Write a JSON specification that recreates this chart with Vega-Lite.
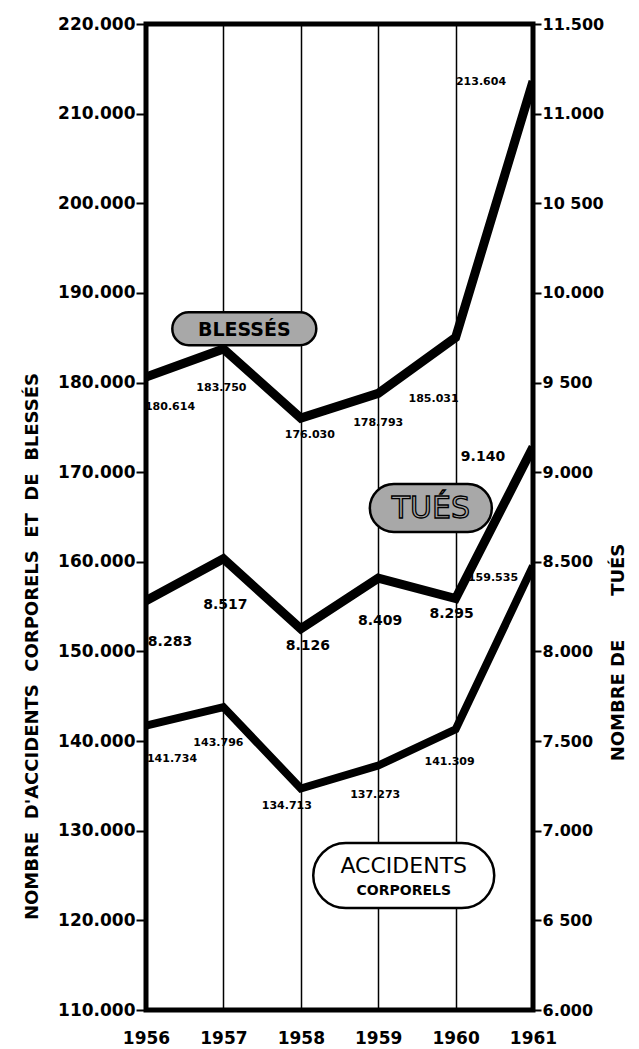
{
  "$schema": "https://vega.github.io/schema/vega-lite/v6.json",
  "width": 387,
  "height": 986,
  "autosize": {"type": "none"},
  "padding": {"left": 146, "top": 24, "right": 106, "bottom": 39},
  "background": "white",
  "config": {
    "locale": {"number": {"decimal": ",", "thousands": ".", "grouping": [3], "currency": ["", ""]}},
    "view": {"stroke": "black", "strokeWidth": 5},
    "font": "DejaVu Sans",
    "axis": {
      "labelFont": "DejaVu Sans",
      "labelFontWeight": "bold",
      "labelColor": "black",
      "tickColor": "black",
      "titleFont": "DejaVu Sans",
      "titleColor": "black",
      "titleFontWeight": "bold",
      "domain": false,
      "labelOverlap": false,
      "labelBound": false
    }
  },
  "datasets": {
    "series": [
      {"year": 1956, "series": "Blessés", "value": 180614},
      {"year": 1957, "series": "Blessés", "value": 183750},
      {"year": 1958, "series": "Blessés", "value": 176030},
      {"year": 1959, "series": "Blessés", "value": 178793},
      {"year": 1960, "series": "Blessés", "value": 185031},
      {"year": 1961, "series": "Blessés", "value": 213604},
      {"year": 1956, "series": "Accidents", "value": 141734},
      {"year": 1957, "series": "Accidents", "value": 143796},
      {"year": 1958, "series": "Accidents", "value": 134713},
      {"year": 1959, "series": "Accidents", "value": 137273},
      {"year": 1960, "series": "Accidents", "value": 141309},
      {"year": 1961, "series": "Accidents", "value": 159535},
      {"year": 1956, "series": "Tués", "value": 8283},
      {"year": 1957, "series": "Tués", "value": 8517},
      {"year": 1958, "series": "Tués", "value": 8126},
      {"year": 1959, "series": "Tués", "value": 8409},
      {"year": 1960, "series": "Tués", "value": 8295},
      {"year": 1961, "series": "Tués", "value": 9140}
    ],
    "notesLeft": [
      {"note": "BLESSÉS", "sub": "", "year": 1957.27, "value": 186000},
      {"note": "ACCIDENTS", "sub": "CORPORELS", "year": 1959.33, "value": 125000}
    ],
    "notesRight": [
      {"note": "TUÉS", "year": 1959.68, "value": 8800}
    ]
  },
  "encoding": {
    "x": {
      "field": "year", "type": "quantitative",
      "scale": {"domain": [1956, 1961], "nice": false, "zero": false},
      "axis": {
        "values": [1956, 1957, 1958, 1959, 1960, 1961],
        "format": "d",
        "title": null,
        "grid": true,
        "gridColor": "black",
        "gridWidth": 1.5,
        "gridOpacity": 1,
        "ticks": false,
        "labelFlush": false,
        "labelFontSize": 17,
        "labelPadding": 20
      }
    }
  },
  "layer": [
    {
      "encoding": {
        "y": {
          "field": "value", "type": "quantitative",
          "scale": {"domain": [110000, 220000], "nice": false, "zero": false},
          "axis": {
            "values": [110000, 120000, 130000, 140000, 150000, 160000, 170000, 180000, 190000, 200000, 210000, 220000],
            "format": ",d",
            "grid": false,
            "tickSize": 10,
            "tickWidth": 2,
            "labelFontSize": 17,
            "labelPadding": 1,
            "title": "NOMBRE \u00a0D'ACCIDENTS \u00a0CORPORELS \u00a0ET \u00a0DE \u00a0BLESSÉS",
            "titleFontSize": 18,
            "titleAngle": -90,
            "titleX": -114,
            "titleY": 622,
            "titleAlign": "center",
            "titleBaseline": "middle"
          }
        }
      },
      "layer": [
        {
          "data": {"name": "series"},
          "transform": [{"filter": "datum.series == 'Blessés'"}],
          "mark": {"type": "line", "color": "black", "strokeWidth": 9, "strokeJoin": "miter", "clip": true}
        },
        {
          "data": {"name": "series"},
          "transform": [{"filter": "datum.series == 'Accidents'"}],
          "mark": {"type": "line", "color": "black", "strokeWidth": 8, "strokeJoin": "miter", "clip": true}
        },
        {
          "data": {"name": "series"},
          "transform": [{"filter": "datum.series == 'Blessés'"}],
          "mark": {
            "type": "text", "fontSize": 11, "fontWeight": "bold", "color": "black", "align": "center", "baseline": "middle",
            "dx": {"expr": "datum.year==1956?24:datum.year==1957?-2:datum.year==1958?9:datum.year==1959?0:datum.year==1960?-22:-52"},
            "dy": {"expr": "datum.year==1956?30:datum.year==1957?39:datum.year==1958?17:datum.year==1959?30:datum.year==1960?62:1"}
          },
          "encoding": {
            "text": {"field": "value", "type": "quantitative", "format": ","}
          }
        },
        {
          "data": {"name": "series"},
          "transform": [{"filter": "datum.series == 'Accidents'"}],
          "mark": {
            "type": "text", "fontSize": 11, "fontWeight": "bold", "color": "black", "align": "center", "baseline": "middle",
            "dx": {"expr": "datum.year==1956?26:datum.year==1957?-5:datum.year==1958?-14:datum.year==1959?-3:datum.year==1960?-6:-40"},
            "dy": {"expr": "datum.year==1956?33:datum.year==1957?36:datum.year==1958?18:datum.year==1959?29:datum.year==1960?33:12"}
          },
          "encoding": {
            "text": {"field": "value", "type": "quantitative", "format": ","}
          }
        },
        {
          "data": {"name": "notesLeft"},
          "transform": [{"filter": "datum.note == 'BLESSÉS'"}],
          "mark": {
            "type": "point", "filled": true, "fill": "#a8a8a8", "stroke": "black", "strokeWidth": 2.5, "opacity": 1, "fillOpacity": 1,
            "shape": "M -0.771 -0.229 L 0.771 -0.229 A 0.229 0.229 0 0 1 0.771 0.229 L -0.771 0.229 A 0.229 0.229 0 0 1 -0.771 -0.229 Z",
            "size": 20736
          }
        },
        {
          "data": {"name": "notesLeft"},
          "transform": [{"filter": "datum.note == 'ACCIDENTS'"}],
          "mark": {
            "type": "point", "filled": true, "fill": "white", "stroke": "black", "strokeWidth": 2.5, "opacity": 1, "fillOpacity": 1,
            "shape": "M -0.641 -0.359 L 0.641 -0.359 A 0.359 0.359 0 0 1 0.641 0.359 L -0.641 0.359 A 0.359 0.359 0 0 1 -0.641 -0.359 Z",
            "size": 32761
          }
        },
        {
          "data": {"name": "notesLeft"},
          "transform": [{"filter": "datum.note == 'BLESSÉS'"}],
          "mark": {"type": "text", "fontSize": 19, "fontWeight": "bold", "color": "black", "align": "center", "baseline": "middle", "dy": 1},
          "encoding": {"text": {"field": "note"}}
        },
        {
          "data": {"name": "notesLeft"},
          "transform": [{"filter": "datum.note == 'ACCIDENTS'"}],
          "mark": {"type": "text", "fontSize": 22, "color": "black", "align": "center", "baseline": "middle", "dy": -10},
          "encoding": {"text": {"field": "note"}}
        },
        {
          "data": {"name": "notesLeft"},
          "transform": [{"filter": "datum.note == 'ACCIDENTS'"}],
          "mark": {"type": "text", "fontSize": 14, "fontWeight": "bold", "color": "black", "align": "center", "baseline": "middle", "dy": 15},
          "encoding": {"text": {"field": "sub"}}
        }
      ]
    },
    {
      "encoding": {
        "y": {
          "field": "value", "type": "quantitative",
          "scale": {"domain": [6000, 11500], "nice": false, "zero": false},
          "axis": {
            "orient": "right",
            "values": [6000, 6500, 7000, 7500, 8000, 8500, 9000, 9500, 10000, 10500, 11000, 11500],
            "format": ",d",
            "labelExpr": "datum.value==10500?'10 500':datum.value==9500?'9 500':datum.value==6500?'6 500':datum.label",
            "grid": false,
            "tickSize": 8,
            "tickWidth": 2,
            "labelFontSize": 16,
            "labelPadding": 1,
            "title": "NOMBRE DE \u00a0\u00a0\u00a0\u00a0\u00a0\u00a0TUÉS",
            "titleFontSize": 18,
            "titleAngle": -90,
            "titleX": 85,
            "titleY": 628,
            "titleAlign": "center",
            "titleBaseline": "middle"
          }
        }
      },
      "layer": [
        {
          "data": {"name": "series"},
          "transform": [{"filter": "datum.series == 'Tués'"}],
          "mark": {"type": "line", "color": "black", "strokeWidth": 9, "strokeJoin": "miter", "clip": true}
        },
        {
          "data": {"name": "series"},
          "transform": [{"filter": "datum.series == 'Tués'"}],
          "mark": {
            "type": "text", "fontSize": 14, "fontWeight": "bold", "color": "black", "align": "center", "baseline": "middle",
            "dx": {"expr": "datum.year==1956?24:datum.year==1957?2:datum.year==1958?7:datum.year==1959?2:datum.year==1960?-4:-50"},
            "dy": {"expr": "datum.year==1956?41:datum.year==1957?46:datum.year==1958?17:datum.year==1959?43:datum.year==1960?15:10"}
          },
          "encoding": {
            "text": {"field": "value", "type": "quantitative", "format": ","}
          }
        },
        {
          "data": {"name": "notesRight"},
          "mark": {
            "type": "point", "filled": true, "fill": "#a8a8a8", "stroke": "black", "strokeWidth": 2.5, "opacity": 1, "fillOpacity": 1,
            "shape": "M -0.607 -0.393 L 0.607 -0.393 A 0.393 0.393 0 0 1 0.607 0.393 L -0.607 0.393 A 0.393 0.393 0 0 1 -0.607 -0.393 Z",
            "size": 14884
          }
        },
        {
          "data": {"name": "notesRight"},
          "mark": {"type": "text", "fontSize": 30, "color": "#a8a8a8", "stroke": "black", "strokeWidth": 1.3, "align": "center", "baseline": "middle", "dy": 1},
          "encoding": {"text": {"field": "note"}}
        }
      ]
    }
  ],
  "resolve": {"scale": {"y": "independent"}, "axis": {"y": "independent"}}
}
